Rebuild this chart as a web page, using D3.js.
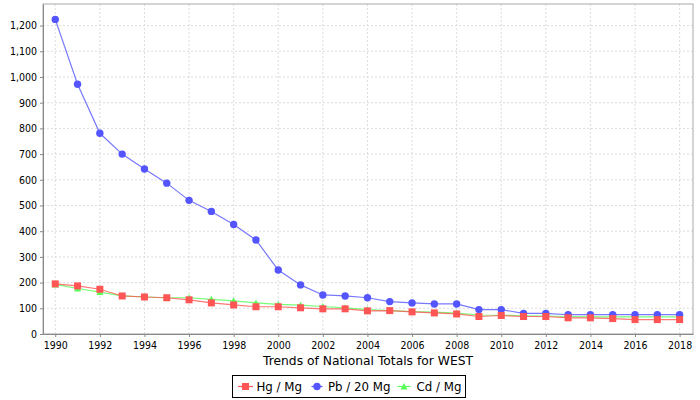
<!DOCTYPE html>
<html>
<head>
<meta charset="utf-8">
<script src="https://cdn.jsdelivr.net/npm/d3@7"></script>
<style>
  body { margin: 0; background: #fff; overflow: hidden; }
  svg { font-family: "DejaVu Sans", sans-serif; display: block; }
</style>
</head>
<body>
<svg id="chart"></svg>
<script>
// data
const years = d3.range(1990, 2019);
const hg = [195, 187, 174, 148, 144, 141, 133, 121, 113, 106, 106, 102, 98, 98, 90, 91, 86, 82, 78, 68, 72, 68, 68, 63, 63, 60, 56, 56, 56];
const pb20 = [1224, 972, 781, 700, 642, 587, 520, 477, 426, 366, 249, 191, 152, 148, 141, 126, 121, 117, 117, 95, 95, 80, 80, 75, 75, 75, 75, 75, 75];
const cd = [193, 177, 163, 148, 144, 141, 141, 135, 129, 121, 115, 112, 107, 102, 95, 91, 87, 85, 81, 74, 73, 71, 70, 68, 67, 67, 67, 67, 67];
const seriesNames = ["Hg / Mg", "Pb / 20 Mg", "Cd / Mg"];
const xTicks = d3.range(1990, 2019, 2);
const yTicks = d3.range(0, 1201, 100);

const width = 700;
const height = 400;
const margin = { top: 4, right: 7, bottom: 66, left: 43 };
const innerWidth = width - margin.left - margin.right;
const innerHeight = height - margin.top - margin.bottom;

const colors = ["#ff5555", "#5555ff", "#55ff55"];

const xScale = d3.scaleLinear()
    .domain([1989.45, 2018.6])
    .range([0, innerWidth]);

const yScale = d3.scaleLinear()
    .domain([0, 1284])
    .range([innerHeight, 0]);

const svg = d3.select("#chart")
    .attr("width", width)
    .attr("height", height);

const g = svg.append("g")
    .attr("transform", `translate(${margin.left},${margin.top})`);

// gridlines
g.append("g")
    .selectAll("line")
    .data(xTicks)
    .enter()
    .append("line")
    .attr("x1", d => xScale(d)).attr("x2", d => xScale(d))
    .attr("y1", 0).attr("y2", innerHeight)
    .attr("stroke", "#dcdcdc")
    .attr("stroke-dasharray", "2,2");

g.append("g")
    .selectAll("line")
    .data(yTicks)
    .enter()
    .append("line")
    .attr("x1", 0).attr("x2", innerWidth)
    .attr("y1", d => yScale(d)).attr("y2", d => yScale(d))
    .attr("stroke", "#dcdcdc")
    .attr("stroke-dasharray", "2,2");

// plot outline
g.append("rect")
    .attr("width", innerWidth)
    .attr("height", innerHeight)
    .attr("fill", "none")
    .attr("stroke", "#aaaaaa");

// axes
const xAxis = d3.axisBottom(xScale)
    .tickValues(xTicks)
    .tickFormat(d3.format("d"))
    .tickSize(3)
    .tickSizeOuter(0);

const yAxis = d3.axisLeft(yScale)
    .tickValues(yTicks)
    .tickFormat(d3.format(","))
    .tickSize(3)
    .tickSizeOuter(0);

const gx = g.append("g")
    .attr("transform", `translate(0,${innerHeight})`)
    .call(xAxis);

const gy = g.append("g")
    .call(yAxis);

[gx, gy].forEach(ax => {
    ax.select(".domain").attr("stroke", "#888888");
    ax.selectAll(".tick line").attr("stroke", "#888888");
    ax.selectAll(".tick text")
        .attr("fill", "#000")
        .style("font-size", "10.5px")
        .style("font-family", "'DejaVu Sans Condensed', 'DejaVu Sans', sans-serif");
});
gx.selectAll(".tick text").attr("dy", "0.9em");
gy.selectAll(".tick text").attr("x", -6);

// axis label
svg.append("text")
    .attr("x", margin.left + innerWidth / 2)
    .attr("y", 364.5)
    .attr("text-anchor", "middle")
    .style("font-size", "12.3px")
    .text("Trends of National Totals for WEST");

// series (drawn in reverse so Hg sits on top)
const series = [hg, pb20, cd];

const line = d3.line()
    .x((d, i) => xScale(years[i]))
    .y(d => yScale(d));

function drawMarker(sel, k) {
    if (k === 0) {
        sel.append("rect")
            .attr("x", -3.5).attr("y", -3.5)
            .attr("width", 7).attr("height", 7)
            .attr("fill", colors[0]);
    } else if (k === 1) {
        sel.append("circle")
            .attr("r", 3.7)
            .attr("fill", colors[1]);
    } else {
        sel.append("path")
            .attr("d", "M0,-3.5L3.5,3L-3.5,3Z")
            .attr("fill", colors[2]);
    }
}

[2, 1, 0].forEach(k => {
    const sg = g.append("g");
    sg.append("path")
        .datum(series[k])
        .attr("d", line)
        .attr("fill", "none")
        .attr("stroke", colors[k])
        .attr("stroke-opacity", 0.8)
        .attr("stroke-width", 1.2);

    sg.selectAll("g.pt")
        .data(series[k])
        .enter()
        .append("g")
        .attr("class", "pt")
        .attr("transform", (d, i) => `translate(${xScale(years[i])},${yScale(d)})`)
        .each(function() { drawMarker(d3.select(this), k); });
});

// legend
const legend = svg.append("g");
legend.append("rect")
    .attr("x", 232.5).attr("y", 375.5)
    .attr("width", 233).attr("height", 22)
    .attr("fill", "#fff")
    .attr("stroke", "#000");

const legendLine = [[238, 253], [311.5, 322.5], [397.5, 410.5]];
const legendText = [256.5, 328, 416.5];
seriesNames.forEach((name, k) => {
    const item = legend.append("g")
        .attr("transform", "translate(0,386.5)");
    item.append("line")
        .attr("x1", legendLine[k][0]).attr("x2", legendLine[k][1])
        .attr("stroke", colors[k])
        .attr("stroke-width", 1.2);
    const mid = (legendLine[k][0] + legendLine[k][1]) / 2;
    drawMarker(item.append("g").attr("transform", `translate(${mid},0)`), k);
    item.append("text")
        .attr("x", legendText[k])
        .attr("y", 4.5)
        .style("font-size", "11.8px")
        .text(name);
});
</script>
</body>
</html>
